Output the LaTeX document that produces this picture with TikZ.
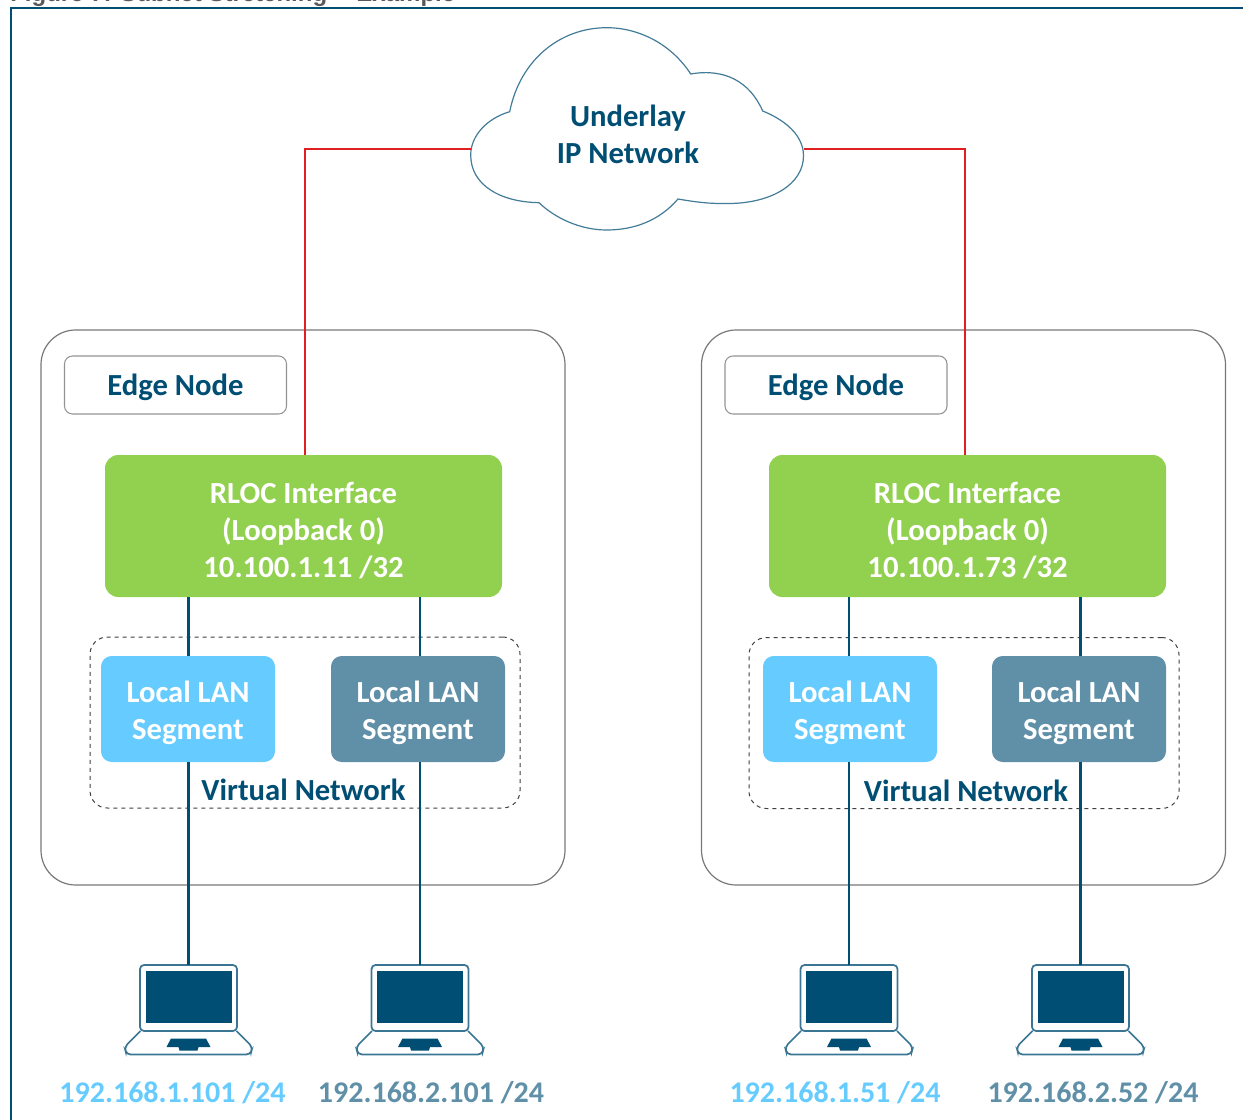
\documentclass[tikz,border=0pt]{standalone}
\usepackage{fontspec}
\setmainfont{Carlito}
\newfontfamily\captionfont{Liberation Sans}
\definecolor{darkteal}{RGB}{0,78,115}
\definecolor{midteal}{RGB}{96,144,168}
\definecolor{skyblue}{RGB}{102,204,255}
\definecolor{leafgreen}{RGB}{146,208,80}
\definecolor{linkred}{RGB}{224,32,32}
\definecolor{edgegray}{RGB}{120,120,120}
\tikzset{
  edgebox/.style={draw=edgegray,line width=0.9pt,rounded corners=26pt,minimum width=393pt,minimum height=416.25pt,inner sep=0pt},
  namebox/.style={draw=edgegray!80,line width=0.8pt,rounded corners=6pt,minimum width=166.5pt,minimum height=43.5pt,inner sep=0pt,text=darkteal,font=\fontsize{23}{27.75}\selectfont\bfseries},
  rlocbox/.style={fill=leafgreen,rounded corners=10pt,minimum width=297.75pt,minimum height=106.5pt,inner sep=0pt,align=center,text=white,font=\fontsize{23}{27.75}\selectfont\bfseries},
  vnbox/.style={draw=black!75,dashed,line width=0.75pt,rounded corners=13pt,minimum width=322.5pt,minimum height=128.25pt,inner sep=0pt},
  lanbox/.style={rounded corners=8pt,minimum width=130.5pt,minimum height=79.5pt,inner sep=0pt,align=center,text=white,font=\fontsize{23}{27.75}\selectfont\bfseries},
  darktext/.style={text=darkteal,align=center,inner sep=0pt,font=\fontsize{23}{27.75}\selectfont\bfseries},
  iptext/.style={inner sep=0pt,font=\fontsize{22.5}{27.75}\selectfont\bfseries},
  teallink/.style={draw=darkteal,line width=1.6pt},
  redlink/.style={draw=linkred,line width=1.7pt},
  laptop/.pic={
    \coordinate (-top) at (0,0);
    \draw [midteal!60!darkteal,line width=1.3pt,rounded corners=3pt,fill=white] (-48.5,0) rectangle (48.5,-66);
    \fill [darkteal] (-43,-5.5) rectangle (43,-58);
    \draw [midteal!60!darkteal,line width=1.3pt,rounded corners=3pt] (-48,-66) -- (-64,-82) -- (-62,-89.5) -- (62,-89.5) -- (64,-82) -- (48,-66);
    \fill [darkteal] (-17.5,-73.5) -- (17.5,-73.5) -- (22,-82) -- (10,-82) -- (9,-85.5) -- (-9,-85.5) -- (-10,-82) -- (-22,-82) -- cycle;
  }
}
\begin{document}
\begin{tikzpicture}[x=0.75pt,y=0.75pt,yscale=-1,xscale=1]
		\useasboundingbox (0,0) rectangle (1243,1120);
		
		%caption and frame
		\node (caption) [anchor=base west,inner sep=0pt,text=black!65,font=\captionfont\fontsize{18}{20}\selectfont\bfseries] at (10,2) {Figure 7: Subnet Stretching -- Example};
		\draw [darkteal,line width=1.8pt] (11,1121) -- (11,8) -- (1244,8);
		
		%cloud
		\draw [midteal!70!darkteal,line width=0.9pt,fill=white] (509.7,111.7) .. controls (520,60) and (560,27.7) .. (606.7,27.7) .. controls (640,27.7) and (672,45) .. (690.7,74) .. controls (725,68) and (750,82) .. (762.7,111) .. controls (785,120) and (803,135) .. (803.5,155) .. controls (804,185) and (770,203) .. (730,203.5) .. controls (710,204) and (695,202) .. (678,199) .. controls (660,220) and (635,230) .. (606.7,230) .. controls (580,230) and (555,218) .. (539,202.7) .. controls (500,202) and (470.7,185) .. (470.7,155) .. controls (470.7,135) and (488,118) .. (509.7,111.7) -- cycle;
		\node (underlay) [darktext] at (628,134.5) {Underlay\\IP Network};
		\coordinate (cloudw) at (471,149);
		\coordinate (cloude) at (804,149);
		
		%left edge node
		\node (edgel) [edgebox] at (303,607.5) {};
		\node (namel) [namebox,text height=20pt] at (175.5,385) {Edge Node};
		\node (rlocl) [rlocbox] at (303.5,526) {\rule{0pt}{23pt}RLOC Interface\\(Loopback 0)\\10.100.1.11 /32};
		\node (vnl) [vnbox] at (305,722.5) {};
		\node (lanla) [lanbox,fill=skyblue] at (188,709) {\rule{0pt}{21.5pt}Local LAN\\Segment};
		\node (lanlb) [lanbox,fill=midteal] at (418,709) {\rule{0pt}{21.5pt}Local LAN\\Segment};
		\node (vntextl) [darktext] at (303.5,790) {Virtual Network};
		
		%right edge node
		\node (edger) [edgebox] at (963.5,607.5) {};
		\node (namer) [namebox,text height=20pt] at (836,385) {Edge Node};
		\node (rlocr) [rlocbox] at (967.5,526) {\rule{0pt}{23pt}RLOC Interface\\(Loopback 0)\\10.100.1.73 /32};
		\node (vnr) [vnbox] at (964,723) {};
		\node (lanra) [lanbox,fill=skyblue] at (850,709) {\rule{0pt}{21.5pt}Local LAN\\Segment};
		\node (lanrb) [lanbox,fill=midteal] at (1079,709) {\rule{0pt}{21.5pt}Local LAN\\Segment};
		\node (vntextr) [darktext] at (966,791) {Virtual Network};
		
		%laptops
		\pic (lapla) at (188.5,965) {laptop};
		\pic (laplb) at (420,965) {laptop};
		\pic (lapra) at (849,965) {laptop};
		\pic (laprb) at (1080.5,965) {laptop};
		\node (ipla) [iptext,text=skyblue] at (172.5,1093) {192.168.1.101 /24};
		\node (iplb) [iptext,text=midteal] at (431,1093) {192.168.2.101 /24};
		\node (ipra) [iptext,text=skyblue] at (835,1093) {192.168.1.51 /24};
		\node (iprb) [iptext,text=midteal] at (1093,1093) {192.168.2.52 /24};
		
		%links to the cloud
		\coordinate (uplinkl) at (305,455);
		\coordinate (uplinkr) at (965,455);
		\draw [redlink] (cloudw) -| (uplinkl);
		\draw [redlink] (cloude) -| (uplinkr);
		
		%links down to the laptops
		\draw [teallink] (rlocl.south -| lapla-top) -- (lanla.north -| lapla-top);
		\draw [teallink] (lanla.south -| lapla-top) -- (lapla-top);
		\draw [teallink] (rlocl.south -| laplb-top) -- (lanlb.north -| laplb-top);
		\draw [teallink] (lanlb.south -| laplb-top) -- (laplb-top);
		\draw [teallink] (rlocr.south -| lapra-top) -- (lanra.north -| lapra-top);
		\draw [teallink] (lanra.south -| lapra-top) -- (lapra-top);
		\draw [teallink] (rlocr.south -| laprb-top) -- (lanrb.north -| laprb-top);
		\draw [teallink] (lanrb.south -| laprb-top) -- (laprb-top);
		
\end{tikzpicture}
\end{document}
